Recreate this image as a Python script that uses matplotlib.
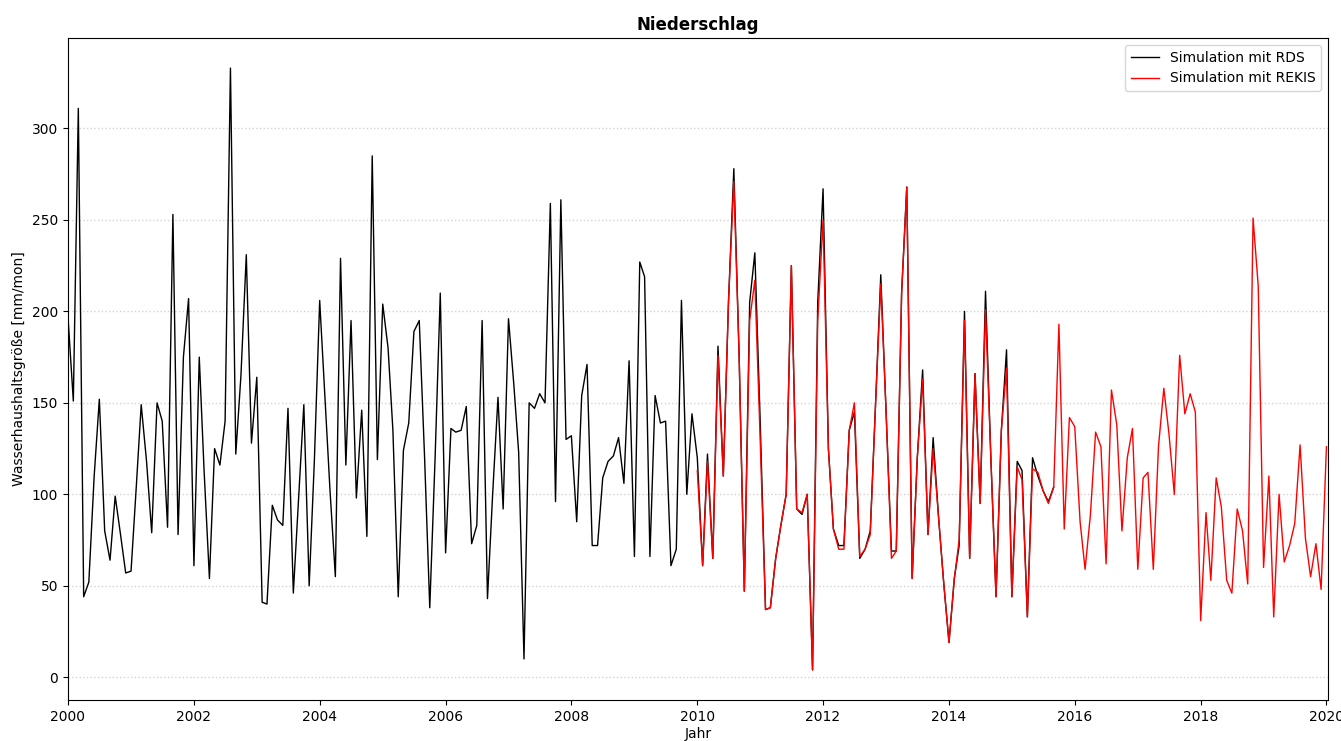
import pandas as pd
import matplotlib
matplotlib.use("Agg")
import matplotlib.pyplot as plt
import matplotlib.dates as mdates

# monthly precipitation, RDS run: 2000-01 .. 2015-09
rds = [
    197, 151, 311, 44, 52, 110, 152, 80, 64, 99, 78, 57,      # 2000
    58, 105, 149, 118, 79, 150, 140, 82, 253, 78, 175, 207,   # 2001
    61, 175, 113, 54, 125, 116, 140, 333, 122, 165, 231, 128, # 2002
    164, 41, 40, 94, 86, 83, 147, 46, 98, 149, 50, 118,       # 2003
    206, 152, 102, 55, 229, 116, 195, 98, 146, 77, 285, 119,  # 2004
    204, 180, 135, 44, 124, 139, 189, 195, 120, 38, 120, 210, # 2005
    68, 136, 134, 135, 148, 73, 83, 195, 43, 100, 153, 92,    # 2006
    196, 160, 123, 10, 150, 147, 155, 150, 259, 96, 261, 130, # 2007
    132, 85, 154, 171, 72, 72, 109, 118, 121, 131, 106, 173,  # 2008
    66, 227, 219, 66, 154, 139, 140, 61, 70, 206, 100, 144,   # 2009
    120, 61, 122, 65, 181, 110, 205, 278, 175, 47, 205, 232,  # 2010
    140, 37, 38, 65, 83, 100, 225, 92, 89, 100, 4, 205,       # 2011
    267, 125, 81, 72, 72, 135, 145, 65, 70, 80, 150, 220,     # 2012
    145, 69, 69, 210, 268, 54, 120, 168, 78, 131, 88, 52,     # 2013
    19, 54, 72, 200, 65, 166, 95, 211, 120, 44, 135, 179,     # 2014
    44, 118, 113, 33, 120, 110, 102, 96, 104,                 # 2015
]

# monthly precipitation, REKIS run: 2010-01 .. 2020-01
rekis = [
    113, 61, 118, 65, 176, 110, 205, 271, 175, 47, 195, 217,  # 2010
    130, 37, 38, 65, 83, 100, 225, 92, 90, 100, 4, 195,       # 2011
    250, 125, 81, 70, 70, 135, 150, 66, 70, 78, 150, 215,     # 2012
    145, 65, 69, 210, 268, 54, 120, 163, 78, 125, 88, 52,     # 2013
    19, 54, 75, 195, 65, 166, 95, 201, 120, 44, 135, 169,     # 2014
    44, 115, 108, 33, 114, 112, 102, 95, 104, 193, 81, 142,   # 2015
    137, 85, 59, 89, 134, 126, 62, 157, 138, 80, 120, 136,    # 2016
    59, 109, 112, 59, 126, 158, 133, 100, 176, 144, 155, 145, # 2017
    31, 90, 53, 109, 93, 53, 46, 92, 80, 51, 251, 214,        # 2018
    60, 110, 33, 100, 63, 72, 84, 127, 76, 55, 73, 48,        # 2019
    126,                                                      # 2020
]

t_rds = pd.date_range("2000-01-01", periods=len(rds), freq="MS")
t_rekis = pd.date_range("2010-01-01", periods=len(rekis), freq="MS")

fig = plt.figure(figsize=(13.41, 7.41), dpi=100)
ax = fig.add_axes([0.0507, 0.0553, 0.9396, 0.8934])

ax.plot(t_rds, rds, color="black", lw=1.0, label="Simulation mit RDS")
ax.plot(t_rekis, rekis, color="red", lw=1.0, label="Simulation mit REKIS")

ax.set_xlim(pd.Timestamp("2000-01-01"), pd.Timestamp("2020-01-10"))
ax.xaxis.set_major_locator(mdates.YearLocator(2))
ax.xaxis.set_major_formatter(mdates.DateFormatter("%Y"))
ax.set_yticks([0, 50, 100, 150, 200, 250, 300])
ax.grid(axis="y", linestyle=":", color="lightgray", lw=1)

ax.set_title("Niederschlag", fontweight="bold")
ax.set_xlabel("Jahr", labelpad=2)
ax.set_ylabel("Wasserhaushaltsgröße [mm/mon]")
ax.legend(loc="upper right")

fig.savefig("out.png", dpi=100)
